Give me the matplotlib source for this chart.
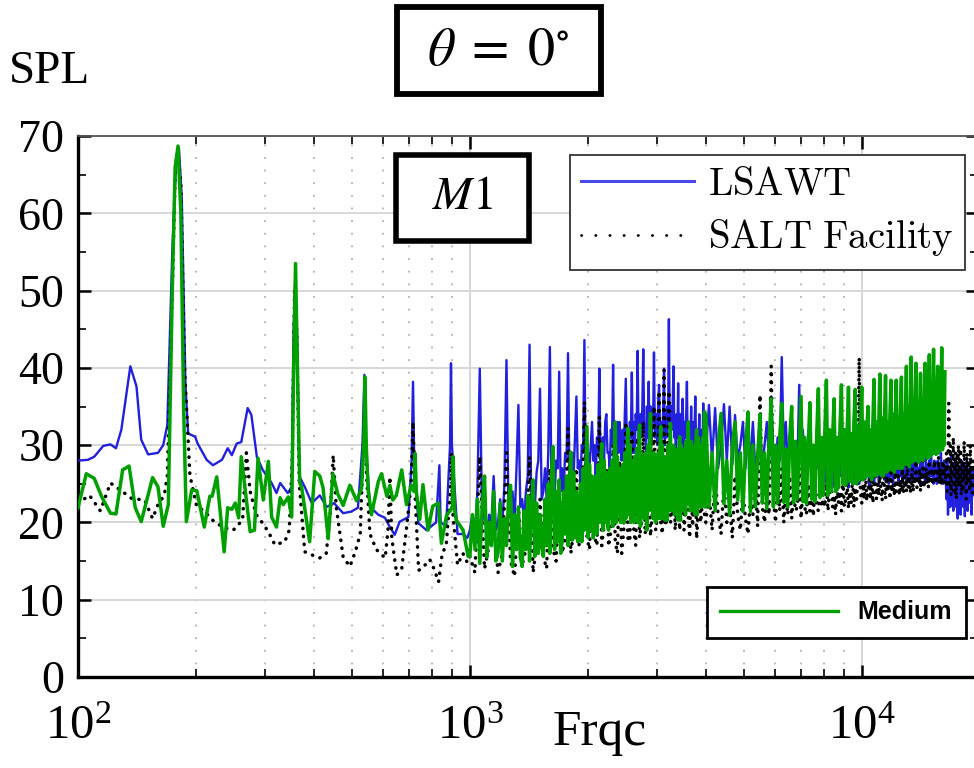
import numpy as np
import matplotlib
matplotlib.use("Agg")
import matplotlib.pyplot as plt
from matplotlib.lines import Line2D
from matplotlib.patches import FancyBboxPatch
from matplotlib.ticker import LogLocator, MultipleLocator, NullFormatter

plt.rcParams["font.family"] = ["Liberation Serif", "DejaVu Serif"]
plt.rcParams["mathtext.fontset"] = "stix"

# ---- data ----
# narrowband bins used above 1 kHz
bins_fine = np.arange(1000, 4000, 15)   # 1000 .. 3985 Hz
bins_a = np.arange(1000, 4000, 30)      # 1000 .. 3970 Hz
bins_b = np.arange(4000, 19301, 75)     # 4000 .. 19300 Hz

# LSAWT (blue)
lsawt_low_f = [100, 106, 110, 116, 121, 125, 129, 136, 141, 145,
               151, 160, 165, 169, 174, 178, 181, 184, 188, 191,
               199, 202, 213, 221, 233, 241, 247, 254, 261, 271,
               277, 286, 296, 312, 321, 328, 343, 351, 355, 358,
               362, 367, 379, 395, 414, 431, 450, 475, 498, 518,
               532, 538, 543, 556, 584, 607, 625, 643, 662, 697,
               710, 716, 721, 739, 775, 820, 836, 842, 870, 890,
               895, 900, 930, 961, 985]
lsawt_low_spl = [28.0, 28.1, 28.5, 29.9, 30.1, 29.6, 32.0, 40.2, 37.6, 30.7,
                 28.8, 29.0, 30.0, 32.6, 55.0, 67.0, 68.4, 62.0, 38.0, 31.5,
                 31.1, 30.2, 28.1, 27.4, 28.1, 29.6, 28.7, 30.2, 30.4, 34.8,
                 33.9, 28.5, 26.8, 25.1, 23.8, 25.1, 23.8, 24.6, 45.0, 51.0,
                 45.0, 26.0, 24.6, 22.5, 23.5, 22.0, 22.5, 21.2, 21.4, 21.9,
                 30.0, 39.1, 30.0, 22.0, 21.0, 20.6, 19.4, 18.4, 20.1, 20.7,
                 28.0, 38.2, 28.0, 19.9, 19.0, 20.0, 27.4, 20.0, 19.5, 30.0,
                 40.6, 30.0, 18.5, 18.5, 18.0]
lsawt_a = [19, 21, 18.5, 24, 39.9, 20,   22, 18.5, 21, 20, 26, 19,
           20, 23, 19.5, 25, 41, 21,     21, 24, 20, 27, 35.2, 22,
           23, 20, 24, 26, 43, 21,       25, 22, 26.5, 28, 37.3, 23,
           24, 27, 23, 29, 42.7, 25,     26, 23, 28, 27, 39.5, 24,
           27, 24, 29, 28, 41.9, 26,     25, 29, 26, 31, 36.3, 27,
           28, 25, 30, 29, 43.6, 26,     26, 29, 27, 30, 33, 28,
           30, 26, 31, 29, 39.9, 27,     27, 31, 28, 33, 34, 29,
           29, 27, 32, 30, 40.4, 28,     31, 28, 33, 29, 33, 30,
           28, 32, 29, 34, 38.6, 30,     30, 27, 33, 31, 39.4, 29,
           33, 29, 34, 32, 42.2, 30,     30, 34, 31, 35, 42.4, 32,
           32, 29, 35, 31, 38.2, 30,     35, 30, 34, 33, 42, 31,
           31, 34, 30, 36, 37.8, 32,     29, 33, 31, 35, 39.9, 30,
           34, 31, 35, 33, 46.3, 32,     30, 35, 32, 36, 40.2, 31,
           33, 29, 34, 31, 38, 30,       31, 34, 30, 33, 36, 32,
           29, 33, 31, 34, 38.2, 30,     32, 28, 33, 30, 35, 29,
           30, 33, 29, 32, 36.3, 31,     28, 32, 30, 31, 34, 29,
           31, 29, 32, 30, 35.4, 30,     29, 31]
lsawt_b = [29, 35.2, 28, 34.8, 27, 30, 35.3, 28, 35, 27.5,
           33.9, 28, 30, 33, 27, 32, 28, 33, 27, 29,
           32, 27, 30, 33, 28, 36.3, 29, 27, 31, 28,
           41.4, 29, 33, 27, 30, 33, 28, 30, 27, 37.8,
           28, 32, 27, 29, 27.5, 31, 27, 29, 26.5, 31,
           27, 28.5, 26, 30,
           27, 25, 29, 26, 28, 24.5, 27, 29, 25, 27.5,
           26, 28.5, 25, 27, 29, 26, 24.5, 28, 26, 27,
           25, 29, 26.5, 27, 25, 28, 26, 30, 25.5, 27,
           26, 28, 24.5, 27.5, 26, 29, 25, 27, 26.5, 28,
           25, 27, 29, 26, 28, 25.5, 27, 26, 29, 25,
           27.5, 26, 28, 25, 27, 29, 26, 27.5, 25, 28,
           26, 29, 25.5, 27, 26, 28, 25, 27.5, 29, 26,
           27, 25, 28.5, 26, 27, 29, 25.5, 28, 26, 27,
           25, 28, 26.5, 29, 26, 27, 25, 28.5, 26, 27.5,
           25.5, 28, 26, 29.5, 26, 27, 25, 28, 26.5, 27,
           25, 28, 26, 27.5, 25.5, 29, 26, 27, 25, 28, 26,
           26, 23, 28, 21, 25, 27, 22, 29, 24, 26,
           21.5, 27, 24, 28, 22, 25, 20.5, 27, 23, 26,
           21, 28, 24.5, 26, 22, 27, 20.8, 25, 23, 28,
           21.5, 26, 24, 27, 22.5, 25.5, 21, 27, 23.5, 25]

# SALT Facility (black dotted)
salt_low_f = [100, 107, 114, 121, 129, 137, 148, 155, 160, 166,
              169, 173, 177, 180, 183, 187, 193, 201, 210, 219,
              234, 249, 263, 269, 275, 285, 294, 306, 318, 337,
              346, 352, 357, 362, 367, 379, 395, 414, 430, 440,
              448, 456, 475, 494, 510, 525, 533, 539, 545, 556,
              577, 608, 618, 625, 632, 651, 670, 690, 708, 716,
              724, 740, 760, 790, 810, 832, 850, 870, 892, 897,
              902, 930, 960, 985]
salt_low_spl = [22.5, 23.5, 21.5, 25.1, 24.1, 23.1, 22.9, 20.5, 22.3, 23.5,
                26.0, 45.0, 65.0, 67.5, 64.0, 40.0, 26.1, 22.0, 21.5, 20.4,
                19.4, 19.0, 20.3, 29.0, 24.0, 21.0, 20.1, 18.8, 17.1, 17.5,
                19.0, 28.0, 50.0, 44.0, 25.0, 16.2, 15.8, 15.4, 16.0, 21.0,
                28.7, 22.0, 15.5, 14.3, 16.2, 18.5, 28.0, 36.0, 26.0, 18.5,
                16.5, 15.4, 19.0, 25.9, 18.0, 13.2, 14.0, 19.5, 25.0, 33.0,
                24.0, 13.8, 14.2, 15.2, 14.0, 12.3, 16.0, 17.0, 24.0, 29.0,
                22.0, 14.5, 16.0, 14.8]
salt_a = [15.6, 13.5, 28.5, 14, 17, 20, 13.5, 16, 29, 15, 13, 22,
          14.5, 16.5, 28.5, 13.5, 17, 23, 15.6, 14, 27, 16.5, 15, 25,
          16, 18, 32.2, 16, 19, 27, 17, 18.5, 35.6, 18, 16.5, 26,
          18.2, 17, 33.7, 17, 19.5, 27, 16.9, 19, 30, 17.5, 16, 28,
          16, 19, 33, 18, 17.5, 32, 19, 17, 31, 18, 20, 33,
          18.5, 20.5, 30, 18.2, 21, 35, 19, 21, 37, 20, 18.5, 39.7,
          19.5, 22, 37, 20, 21, 30, 19, 22, 29, 19, 21.5, 28,
          19, 22, 27, 20.5, 18, 26, 19.5, 22, 26.5, 17.9, 21, 25,
          20, 22, 26, 21]
salt_b = [20, 24, 19, 26, 21, 18.5, 25, 20, 22.5, 18,
          26, 21, 19, 24, 20.5, 18.5, 23, 21, 25, 19.5,
          36.5, 22, 20, 24, 21, 40.2, 23, 20, 25, 21.5,
          27, 20, 23.5, 21, 26, 20.5, 24, 21.5, 22, 27,
          20.5, 24, 22, 21, 25, 21.5, 23, 20.8, 25.5, 22,
          21.5, 24.5, 22, 23,
          22, 25, 21.5, 24, 26, 22, 23.5, 21, 25, 22.5,
          24, 21.5, 26, 22, 23, 25, 21.8, 24, 22.5, 26,
          22, 24.5, 23, 26, 41.3, 24, 22.5, 25, 23, 26.5,
          22.8, 24, 25.5, 23, 26, 22.5, 24.5, 27, 23, 25,
          23.5, 26, 24, 22.8, 27, 24.5, 23, 26, 24, 25.5,
          23, 27, 24, 25, 23.5, 26.5, 24, 25, 27, 23.5,
          25.5, 24, 27, 23.8, 26, 25, 24, 27.5, 24.5, 26,
          23.8, 25.5, 27, 24, 26, 25, 28, 24.5, 26, 25,
          27, 24, 26.5, 25, 28, 24.5, 26, 27, 25, 26.5,
          24.5, 28, 25, 26, 27, 24.8, 26.5, 28, 25, 27,
          25.5, 26, 28.5, 25, 27, 26, 24.8, 28, 26, 27.5, 25,
          26, 29, 24, 27.5, 35.4, 25, 30, 23.5, 28, 26,
          31, 24, 27, 29, 23, 28.5, 25, 30, 24.5, 27,
          29.5, 23.5, 26, 28, 24, 30.5, 25.5, 27, 23, 29,
          25, 28, 26.5, 24, 30, 25, 27.5, 23.8, 28, 26]

# Medium (green)
medium_low_f = [100, 105, 110, 115, 121, 125, 130, 135, 140, 145,
                155, 160, 165, 170, 174, 177, 180, 183, 186, 189,
                195, 201, 210, 217, 220, 226, 236, 241, 247, 252,
                257, 261, 275, 282, 288, 297, 306, 312, 321, 328,
                334, 344, 351, 355, 359, 363, 368, 372, 390, 402,
                414, 422, 435, 447, 460, 475, 494, 514, 529, 536,
                540, 544, 550, 561, 584, 595, 614, 625, 636, 649,
                670, 689, 708, 721, 725, 730, 745, 759, 782, 804,
                831, 846, 872, 903, 907, 912, 923, 961, 990]
medium_low_spl = [21.9, 26.3, 25.7, 23.3, 21.2, 21.1, 26.8, 27.3, 21.9, 20.1,
                  25.8, 24.6, 19.5, 22.3, 50.0, 66.0, 68.7, 60.0, 35.0, 20.1,
                  24.2, 24.1, 19.4, 23.4, 23.4, 25.9, 16.2, 21.9, 21.7, 22.5,
                  20.6, 28.5, 18.8, 19.0, 28.3, 22.9, 27.9, 20.7, 19.4, 23.2,
                  22.3, 23.3, 20.7, 40.0, 53.5, 40.0, 25.1, 24.6, 17.5, 26.6,
                  26.0, 24.5, 17.9, 26.3, 23.7, 22.2, 24.8, 22.8, 24.4, 30.0,
                  38.8, 30.0, 24.2, 21.0, 25.3, 26.3, 23.4, 24.8, 22.9, 23.5,
                  26.8, 22.3, 24.8, 24.0, 28.9, 24.0, 20.4, 24.9, 19.0, 22.1,
                  22.5, 17.3, 20.9, 22.0, 28.5, 22.0, 20.3, 19.0, 15.6]
medium_a = [15.6, 21, 16.5, 23, 14.7, 22, 26, 15.5, 20, 17, 24, 15,
            16, 22.5, 15, 20.5, 17, 23, 24.8, 14.3, 21, 16.5, 22, 15.5,
            14.3, 21.5, 16.5, 23.5, 15, 22, 25.5, 15.6, 22.5, 16, 21, 17,
            15.6, 23, 17, 25, 16, 26, 29.8, 16.5, 24, 17.5, 25.5, 16,
            17.7, 24, 18.5, 26, 17, 25, 29.1, 17.7, 26.5, 18, 24, 17.5,
            18.5, 25, 17.5, 27, 19, 26, 32.4, 18, 27.5, 19, 26, 18,
            19.9, 26, 18.5, 27.5, 20, 27, 30.2, 19, 28, 20, 26.5, 19.5,
            19, 27, 20.5, 28, 19.5, 29, 33, 20, 28.5, 21, 27, 20,
            21, 27.5, 19.9, 29, 20.5, 28, 32.2, 21, 30, 20, 28, 21.5,
            20, 28.5, 21.5, 29.5, 20, 28, 32.6, 19.5, 29, 21, 28.5, 20.5,
            21, 29, 19, 30, 21.5, 29.5, 34.1, 22, 28, 20.5, 29, 21,
            20, 27.5, 21, 29, 20.5, 30, 32.4, 20.5, 30, 21.5, 28.5, 20.3,
            22, 28.5, 20.3, 30, 21.5, 29, 32.8, 21.5, 29, 22, 30, 21,
            21, 28, 22, 29.5, 20.3, 28.5, 31.1, 20.3, 30, 22, 29, 21.5,
            22, 29.5, 21, 30.5, 22.4, 29, 33, 22.4, 30, 21.5, 30.5, 22,
            21.5, 29, 22.4, 30, 21, 30.5, 32, 21, 31, 22.5, 29.5, 22,
            22.5, 30, 22, 31, 23, 30.5, 34.3, 22]
medium_b = [34, 22, 29, 21.5, 30, 34.1, 22.4, 28, 21, 30,
            33, 22.9, 29, 21.4, 29.5, 34.3, 21.4, 30, 22, 28.5,
            34, 22.5, 29, 21.8, 30.5, 36, 22, 30, 22.5, 31,
            35.4, 22.6, 29.5, 22, 31, 35, 22.5, 30.5, 23, 29.5,
            36.3, 22.7, 31, 22.4, 30, 35.5, 23, 30, 22.7, 31.5,
            37.3, 23.2, 31, 23.5, 32, 38.4, 23.5, 32, 24, 31,
            36, 24, 31, 24.5, 32.5, 37.8, 25, 32, 24.8, 31.5,
            37.5, 25.3, 31.5, 25, 33, 37.2, 25, 32.5, 25.5, 32,
            37.5, 25.5, 33, 25.8, 32, 35, 26, 32, 25.5, 33,
            38.5, 26, 33, 26.2, 32.5, 39.2, 26.2, 33.5, 26, 33,
            39, 26.5, 33, 26.8, 34, 38.4, 26.8, 34, 26.5, 33,
            38.4, 27, 33.5, 27, 34.5, 38.8, 27, 34, 27.5, 34,
            40.2, 27.5, 35, 27.2, 34, 41.4, 27.8, 34.5, 28, 35.5,
            40.6, 28, 35, 27.8, 34.5, 39.3, 28.2, 35.5, 28, 35,
            40.6, 28.5, 35, 28.3, 36, 41.7, 28.5, 36, 28.8, 35.5,
            42.4, 29, 35.5, 28.8, 36.5, 40.2, 29, 36, 29.3, 36,
            42.6, 29.4, 36.5, 30, 39.5]

lsawt_f = np.concatenate([lsawt_low_f, bins_fine, bins_b])
lsawt_spl = np.concatenate([lsawt_low_spl, lsawt_a, lsawt_b])
salt_f = np.concatenate([salt_low_f, bins_a, bins_b])
salt_spl = np.concatenate([salt_low_spl, salt_a, salt_b])
medium_f = np.concatenate([medium_low_f, bins_fine, bins_b[:len(medium_b)]])
medium_spl = np.concatenate([medium_low_spl, medium_a, medium_b])

# ---- figure ----
fig = plt.figure(figsize=(9.74, 7.68), dpi=100)
ax = fig.add_axes([78 / 974, 1 - 677 / 768, 900 / 974, 541 / 768])

blue = "#2020de"
green = "#00a000"
ax.plot(lsawt_f, lsawt_spl, color=blue, lw=1.7, zorder=3)
ax.plot(salt_f, salt_spl, color="black", lw=2.5, ls=(0, (0.1, 2.2)),
        dash_capstyle="round", zorder=4)
ax.plot(medium_f, medium_spl, color=green, lw=2.5, zorder=5)

ax.set_xscale("log")
ax.set_xlim(100, 19800)
ax.set_ylim(0, 70)
ax.xaxis.set_major_locator(LogLocator(base=10))
ax.xaxis.set_minor_locator(LogLocator(base=10, subs=np.arange(2, 10)))
ax.xaxis.set_minor_formatter(NullFormatter())
ax.yaxis.set_major_locator(MultipleLocator(10))
ax.yaxis.set_minor_locator(MultipleLocator(5))

ax.set_axisbelow(True)
ax.grid(True, which="major", color="#d4d4d4", lw=1.3)
ax.grid(True, which="minor", axis="x", color="#b0b0b0", lw=1.3, ls=(0, (1, 6)))

ax.tick_params(which="both", direction="in", top=True, right=True)
ax.tick_params(which="major", length=9, width=1.8)
ax.tick_params(which="minor", length=6, width=1.2)
ax.tick_params(axis="x", which="major", pad=20, labelsize=35)
ax.tick_params(axis="y", pad=10, labelsize=33)
for side in ["left", "bottom"]:
    ax.spines[side].set_linewidth(2.4)
    ax.spines[side].set_color("black")
ax.spines["top"].set_linewidth(1.3)
ax.spines["top"].set_color("#555555")
ax.spines["right"].set_linewidth(1.3)

fig.text(50 / 974, 1 - 72 / 768, "SPL", fontsize=34, ha="center", va="center")
fig.text(600 / 974, 1 - 733 / 768, "Frqc", fontsize=37, ha="center", va="center")

# boxed annotations
box1 = FancyBboxPatch((397 / 974, 1 - 94 / 768), 204 / 974, 87 / 768,
                      boxstyle="square,pad=0", transform=fig.transFigure,
                      facecolor="white", edgecolor="black", lw=4.2, zorder=10)
fig.add_artist(box1)
fig.text(498 / 974, 1 - 52 / 768, r"$\theta\;=\;0^{\circ}$", fontsize=39,
         ha="center", va="center", zorder=11)
box2 = FancyBboxPatch((396 / 974, 1 - 241 / 768), 133 / 974, 86 / 768,
                      boxstyle="square,pad=0", transform=fig.transFigure,
                      facecolor="white", edgecolor="black", lw=4.0, zorder=10)
fig.add_artist(box2)
fig.text(462 / 974, 1 - 198 / 768, r"$M1$", fontsize=34,
         ha="center", va="center", zorder=11)

# legends
h_blue = Line2D([], [], color="#4a4ae8", lw=2.2)
h_black = Line2D([], [], color="black", lw=2.0, ls=(0, (0.1, 5)),
                 dash_capstyle="round")
leg1 = ax.legend([h_blue, h_black], [r"$\mathrm{LSAWT}$", r"$\mathrm{SALT\ Facility}$"],
                 loc="upper right", bbox_to_anchor=((965 - 78) / 900, (677 - 155) / 541),
                 borderaxespad=0, fontsize=28, frameon=True, fancybox=False,
                 framealpha=1, edgecolor="#333333", handlelength=2.9,
                 handletextpad=0.35, labelspacing=0.35, borderpad=0.3)
leg1.get_frame().set_linewidth(1.3)
for t in leg1.get_texts():
    t.set_math_fontfamily("cm")
ax.add_artist(leg1)

h_green = Line2D([], [], color=green, lw=2.4)
leg2 = ax.legend([h_green], ["Medium"], loc="lower right",
                 bbox_to_anchor=((966 - 78) / 900, (677 - 638) / 541),
                 borderaxespad=0, prop={"family": "Liberation Sans", "weight": "bold", "size": 18},
                 frameon=True, fancybox=False, framealpha=1, edgecolor="black",
                 handlelength=4.7, handletextpad=0.8, borderpad=0.55)
leg2.get_frame().set_linewidth(2.0)

fig.savefig("out.png", dpi=100)
